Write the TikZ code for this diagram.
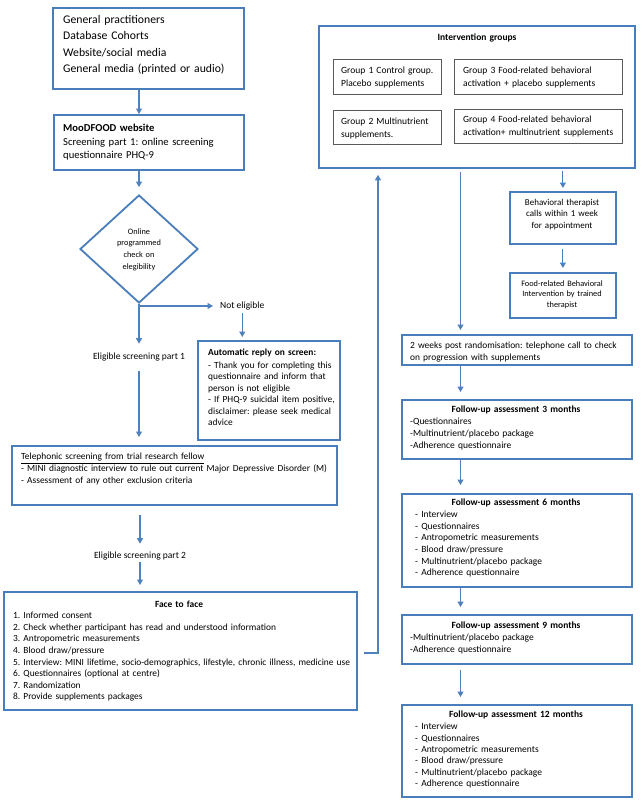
\documentclass[tikz,border=0pt]{standalone}
\usepackage{fontspec}
\setmainfont{Carlito}
\usetikzlibrary{shapes.geometric,arrows.meta,calc}
\definecolor{bblue}{RGB}{74,126,187}
\definecolor{ablue}{RGB}{79,129,189}
\newcommand\fz[2]{\fontsize{#1}{#2}\selectfont}
\frenchspacing
\begin{document}
\frenchspacing
\begin{tikzpicture}[x=1pt,y=-1pt,
 box/.style={draw=bblue, line width=1.8pt, inner sep=0pt, anchor=north west},
 gbox/.style={draw=black!65, line width=0.7pt, inner sep=0pt, anchor=north west},
 conn/.style={draw=ablue, line width=1.1pt},
 arr/.style={conn, -{Triangle[length=5.5pt,width=6pt]}},
 tl/.style={inner sep=0pt, anchor=base west, align=left, text width=420pt},
 tc/.style={inner sep=0pt, anchor=base, align=center, text width=200pt},
 lab/.style={inner sep=0pt, font=\fz{9.5}{11.5}},
]
\useasboundingbox (0,0) rectangle (641,800);
\fill[white] (0,0) rectangle (641,800);

% ---------- left column ----------
\node[box, minimum width=191pt, minimum height=81pt] (b1) at (52,7) {};
\node[tl, font=\fz{11.7}{16.5}] (b1t) at (63,23.5) {General practitioners\\Database Cohorts\\Website/social media\\General media (printed or audio)};

\node[box, minimum width=190pt, minimum height=55pt] (b2) at (53,114) {};
\node[tl, font=\fz{10.6}{13.5}] (b2t) at (63,131.5) {\textbf{MooDFOOD website}\\Screening part 1: online screening\\questionnaire PHQ-9};

\node[diamond, draw=bblue, line width=1.8pt, minimum width=118pt, minimum height=108pt, inner sep=0pt] (dia) at (139,249) {};
\node[inner sep=0pt, align=center, text width=70pt, font=\fz{8.3}{11.6}] (diat) at (139,249.5) {Online\\programmed\\check on\\elegibility};

\draw[arr] (b1.south -| dia.north) -- (b2.north -| dia.north);
\draw[arr, shorten >=7pt] (b2.south -| dia.north) -- (dia.north);

\coordinate (j1) at (139,306);
\node[lab, anchor=west] (ne) at (220,306) {Not eligible};
\node[lab] (el1) at (139,357) {Eligible screening part 1};
\draw[conn] (dia.south) -- (j1);
\draw[arr, shorten >=7pt] (j1) -- (ne.west);
\draw[arr, shorten >=9pt] (j1) -- (el1.north);

\node[box, minimum width=142pt, minimum height=99pt] (auto) at (197,340) {};
\node[tl, font=\fz{9.4}{11.4}] (autot) at (208,355) {\textbf{Automatic reply on screen:}\\[2pt]- Thank you for completing this\\questionnaire and inform that\\person is not eligible\\- If PHQ-9 suicidal item positive,\\disclaimer: please seek medical\\advice};
\draw[arr, shorten <=3pt, shorten >=3pt] (ne.south) -- (ne.south |- auto.north);

\node[box, minimum width=325pt, minimum height=59pt] (tel) at (11,445) {};
\node[tl, font=\fz{9.4}{12}] (telt) at (21,459.7) {\underline{Telephonic screening from trial research fellow}\\- MINI diagnostic interview to rule out current Major Depressive Disorder (M)\\- Assessment of any other exclusion criteria};
\draw[arr, shorten <=10pt, shorten >=8pt] (el1.south) -- (el1.south |- tel.north);

\node[lab] (el2) at (140,556) {Eligible screening part 2};
\draw[arr, shorten <=9pt, shorten >=8pt] (tel.south -| el2.north) -- (el2.north);

\node[box, minimum width=353pt, minimum height=118pt] (face) at (3,591) {};
\node[tc, font=\fz{9.4}{11.6}\bfseries] (facet) at (179,607.7) {Face to face};
\node[tl, font=\fz{9.4}{11.6}] (facel) at (13,618.7) {1. Informed consent\\2. Check whether participant has read and understood information\\3. Antropometric measurements\\4. Blood draw/pressure\\5. Interview: MINI lifetime, socio-demographics, lifestyle, chronic illness, medicine use\\6. Questionnaires (optional at centre)\\7. Randomization\\8. Provide supplements packages};
\draw[arr, shorten <=2pt, shorten >=6pt] (el2.south) -- (el2.south |- face.north);

% ---------- right column ----------
\node[box, minimum width=316pt, minimum height=142pt] (ig) at (318,25) {};
\node[tc, font=\fz{9.5}{11.5}\bfseries] (igt) at (477,40.7) {Intervention groups};
\node[gbox, minimum width=108pt, minimum height=35pt] (g1) at (333,59) {};
\node[tl, font=\fz{9.5}{13}] (g1t) at (341,73.7) {Group 1 Control group.\\Placebo supplements};
\node[gbox, minimum width=168pt, minimum height=35pt] (g3) at (454,59) {};
\node[tl, font=\fz{9.5}{13}] (g3t) at (463,73.7) {Group 3 Food-related behavioral\\activation + placebo supplements};
\node[gbox, minimum width=108pt, minimum height=34pt] (g2) at (333,110) {};
\node[tl, font=\fz{9.5}{13}] (g2t) at (341,124.7) {Group 2 Multinutrient\\supplements.};
\node[gbox, minimum width=168pt, minimum height=34pt] (g4) at (454,109) {};
\node[tl, font=\fz{9.5}{13}] (g4t) at (463,122.7) {Group 4 Food-related behavioral\\activation+ multinutrient supplements};

\coordinate (fe) at ([xshift=6pt]face.east);
\coordinate (cup) at (378,653);
\draw[arr, shorten >=6pt] (fe |- cup) -- (cup) -- (cup |- ig.south);

\node[box, minimum width=106pt, minimum height=52pt] (bt) at (509,191) {};
\node[inner sep=0pt, align=center, text width=100pt, font=\fz{9}{11.5}] (btt) at (562,214.5) {Behavioral therapist\\calls within 1 week\\for appointment};
\node[box, minimum width=106pt, minimum height=45pt] (fr) at (509,272) {};
\node[inner sep=0pt, align=center, text width=100pt, font=\fz{8.3}{10.5}] (frt) at (562,294.5) {Food-related Behavioral\\Intervention by trained\\therapist};
\draw[arr, shorten <=2pt, shorten >=3pt] (ig.south -| bt.north) -- (bt.north);
\draw[arr, shorten <=4pt, shorten >=4pt] (bt.south) -- (fr.north);

\coordinate (cx) at (460.5,0);
\node[box, minimum width=230pt, minimum height=30pt] (tw) at (401,334) {};
\node[tl, font=\fz{9.4}{12}] (twt) at (410,348.7) {2 weeks post randomisation: telephone call to check\\on progression with supplements};
\draw[arr, shorten <=3pt, shorten >=4pt] (ig.south -| cx) -- (tw.north -| cx);

\node[box, minimum width=230pt, minimum height=59pt] (fu3) at (401,399) {};
\node[tc, font=\fz{9.5}{11.5}\bfseries] (fu3t) at (516,412.7) {Follow-up assessment 3 months};
\node[tl, font=\fz{9.5}{11.8}] (fu3l) at (410,424.7) {-Questionnaires\\-Multinutrient/placebo package\\-Adherence questionnaire};
\draw[arr, shorten >=7pt] (tw.south -| cx) -- (fu3.north -| cx);

\node[box, minimum width=230pt, minimum height=93pt] (fu6) at (401,493) {};
\node[tc, font=\fz{9.5}{11.5}\bfseries] (fu6t) at (516,505.7) {Follow-up assessment 6 months};
\node[tl, font=\fz{9.5}{11.6}] (fu6l) at (415,517.7) {- Interview\\- Questionnaires\\- Antropometric measurements\\- Blood draw/pressure\\- Multinutrient/placebo package\\- Adherence questionnaire};
\draw[arr, shorten >=8pt] (fu3.south -| cx) -- (fu6.north -| cx);

\node[box, minimum width=230pt, minimum height=49pt] (fu9) at (401,614) {};
\node[tc, font=\fz{9.5}{11.5}\bfseries] (fu9t) at (516,628.7) {Follow-up assessment 9 months};
\node[tl, font=\fz{9.5}{12}] (fu9l) at (410,640.7) {-Multinutrient/placebo package\\-Adherence questionnaire};
\draw[arr, shorten >=7pt] (fu6.south -| cx) -- (fu9.north -| cx);

\node[box, minimum width=230pt, minimum height=92pt] (fu12) at (401,704) {};
\node[tc, font=\fz{9.5}{11.5}\bfseries] (fu12t) at (516,717.7) {Follow-up assessment 12 months};
\node[tl, font=\fz{9.5}{11.4}] (fu12l) at (415,729.7) {- Interview\\- Questionnaires\\- Antropometric measurements\\- Blood draw/pressure\\- Multinutrient/placebo package\\- Adherence questionnaire};
\draw[arr, shorten <=5pt, shorten >=7pt] (fu9.south -| cx) -- (fu12.north -| cx);
\end{tikzpicture}
\end{document}
